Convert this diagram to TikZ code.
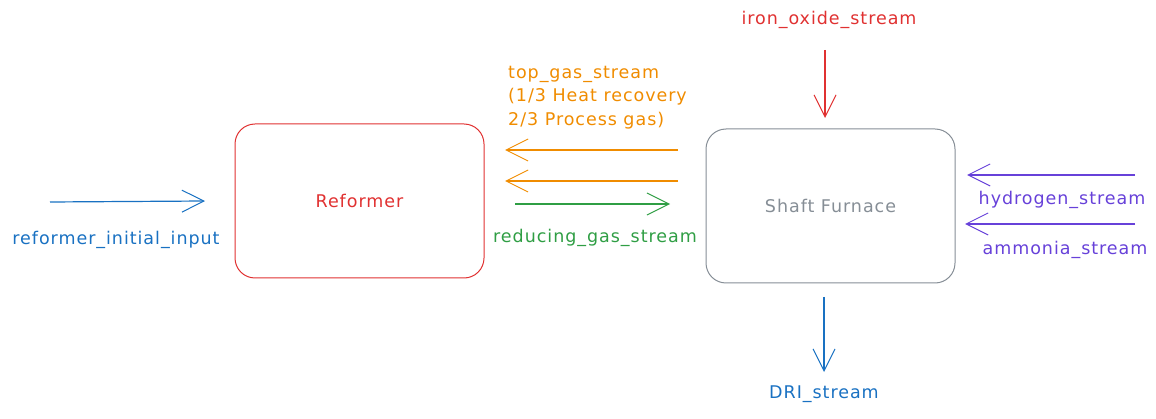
\documentclass[tikz,border=0pt]{standalone}
\usepackage{fontspec}
\setmainfont{DejaVu Sans}[LetterSpace=5.5]
\usetikzlibrary{arrows.meta}
\definecolor{cred}{HTML}{E03131}
\definecolor{corange}{HTML}{F08C00}
\definecolor{cgreen}{HTML}{2F9E44}
\definecolor{cblue}{HTML}{1971C2}
\definecolor{cpurple}{HTML}{6741D9}
\definecolor{cgray}{HTML}{868E96}
\tikzset{
  box/.style={draw, line width=1pt, rounded corners=20pt, minimum width=249pt, minimum height=154pt, font=\fontsize{17.5}{20}\selectfont},
  lbl/.style={font=\fontsize{17.5}{23.5}\selectfont, inner sep=0pt},
  flow/.style={line width=1.2pt, -{Straight Barb[length=22pt,width=22pt,line width=1pt]}},
}
\begin{document}
\begin{tikzpicture}[x=1pt,y=-1pt]
\useasboundingbox (0,0) rectangle (1156,419);
\node[box, draw=cred, text=cred] (ref) at (359.5,201) {Reformer};
\node[box, draw=cgray, text=cgray] (sf) at (830.5,206) {Shaft Furnace};

\coordinate (in0) at (50,202);
\draw[flow, cblue] (in0) -- (ref.west -| 205,202);
\node[lbl, text=cblue] (inl) at (116,240) {reformer\_initial\_input};

\coordinate (tg1a) at (678,150);
\coordinate (tg1b) at (505,150);
\coordinate (tg2a) at (678,181);
\coordinate (tg2b) at (505,181);
\draw[flow, corange] (tg1a) -- (tg1b);
\draw[flow, corange] (tg2a) -- (tg2b);
\node[lbl, text=corange, anchor=north west, align=left] (tgl) at (508,66) {top\_gas\_stream\\(1/3 Heat recovery\\2/3 Process gas)};

\coordinate (rg0) at (515,204);
\coordinate (rg1) at (670,204);
\draw[flow, cgreen] (rg0) -- (rg1);
\node[lbl, text=cgreen] (rgl) at (595,238) {reducing\_gas\_stream};

\node[lbl, text=cred] (iol) at (829,20) {iron\_oxide\_stream};
\coordinate (io0) at (825,50);
\draw[flow, cred] (io0) -- (825,118);

\coordinate (h0) at (1135,175);
\coordinate (h1) at (967,175);
\draw[flow, cpurple] (h0) -- (h1);
\node[lbl, text=cpurple] (hl) at (1062,200) {hydrogen\_stream};

\coordinate (a0) at (1135,224);
\coordinate (a1) at (965,224);
\draw[flow, cpurple] (a0) -- (a1);
\node[lbl, text=cpurple] (al) at (1065,250) {ammonia\_stream};

\coordinate (d0) at (824,297);
\coordinate (d1) at (824,372);
\draw[flow, cblue] (d0) -- (d1);
\node[lbl, text=cblue] (dl) at (824,394) {DRI\_stream};
\end{tikzpicture}
\end{document}
